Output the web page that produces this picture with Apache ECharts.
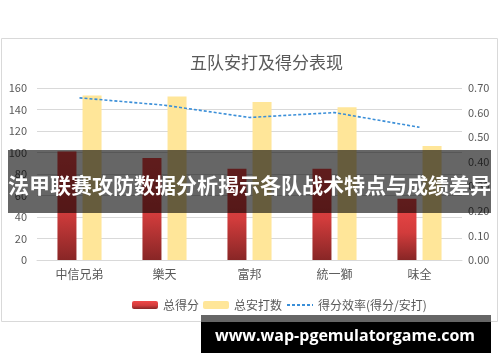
<!DOCTYPE html>
<html>
<head>
<meta charset="utf-8">
<script src="https://cdn.jsdelivr.net/npm/echarts@6/dist/echarts.min.js"></script>
<style>html,body{margin:0;padding:0;background:#fff}#c{width:500px;height:362px}</style>
</head>
<body>
<div id="c"></div>
<script>
const categories = ['中信兄弟', '樂天', '富邦', '統一獅', '味全'];
const totalRuns = [101, 95, 85, 85, 57];
const totalHits = [153, 152, 147, 142, 106];
const efficiency = [0.66, 0.63, 0.58, 0.60, 0.54];
const leftTicks = { min: 0, max: 160, interval: 20 };
const rightTicks = { min: 0, max: 0.7, interval: 0.1 };
const seriesNames = ['总得分', '总安打数', '得分效率(得分/安打)'];
const titleText = '五队安打及得分表现';
const bannerText = '法甲联赛攻防数据分析揭示各队战术特点与成绩差异';
const watermarkText = 'www.wap-pgemulatorgame.com';

const font = '"Noto Sans CJK SC", "Microsoft YaHei", sans-serif';
const chart = echarts.init(document.getElementById('c'), null, { renderer: 'canvas' });
chart.setOption({
  animation: false,
  textStyle: { fontFamily: font },
  title: {
    text: titleText, left: 185, top: 49,
    textStyle: { fontFamily: font, fontSize: 17, fontWeight: 'normal', color: '#595959' }
  },
  grid: { left: 37, right: 38, top: 88, bottom: 102 },
  legend: {
    left: 127, top: 294, itemWidth: 26, itemHeight: 8, itemGap: 4,
    textStyle: { fontFamily: font, fontSize: 12, color: '#595959' },
    data: [
      seriesNames[0],
      seriesNames[1],
      { name: seriesNames[2], itemStyle: { opacity: 0 } }
    ]
  },
  xAxis: {
    type: 'category', data: categories,
    axisLine: { lineStyle: { color: '#d9d9d9' } },
    axisTick: { show: false },
    axisLabel: { color: '#595959', fontSize: 12, margin: 8, fontFamily: font }
  },
  yAxis: [
    {
      type: 'value', min: leftTicks.min, max: leftTicks.max, interval: leftTicks.interval,
      axisLine: { show: false }, axisTick: { show: false },
      axisLabel: { color: '#595959', fontSize: 11, margin: 10, fontFamily: font },
      splitLine: { lineStyle: { color: '#d9d9d9' } }
    },
    {
      type: 'value', min: rightTicks.min, max: rightTicks.max, interval: rightTicks.interval,
      axisLine: { show: false }, axisTick: { show: false },
      axisLabel: { color: '#595959', fontSize: 11, margin: 6, fontFamily: font,
        formatter: v => v.toFixed(2) },
      splitLine: { show: false }
    }
  ],
  series: [
    {
      name: seriesNames[0], type: 'bar', data: totalRuns, barWidth: 19, barGap: '32%',
      itemStyle: {
        color: new echarts.graphic.LinearGradient(0, 0, 0, 1, [
          { offset: 0, color: '#f04848' },
          { offset: 0.55, color: '#d23c3c' },
          { offset: 1, color: '#882626' }
        ])
      }
    },
    {
      name: seriesNames[1], type: 'bar', data: totalHits, barWidth: 19,
      itemStyle: { color: '#ffe699' }
    },
    {
      name: seriesNames[2], type: 'line', yAxisIndex: 1, data: efficiency,
      symbol: 'none', showSymbol: false,
      lineStyle: { color: '#3b8fd8', width: 1.6, type: [3, 2] },
      itemStyle: { color: '#3b8fd8' }
    }
  ],
  graphic: [
    {
      type: 'rect', z: -10, silent: true,
      shape: { x: 1.5, y: 38.5, width: 496, height: 283 },
      style: { fill: 'none', stroke: '#d9d9d9', lineWidth: 1 }
    },
    {
      type: 'rect', z: 100, silent: true,
      shape: { x: 8, y: 150, width: 483, height: 63 },
      style: { fill: 'rgba(0,0,0,0.6)' }
    },
    {
      type: 'text', z: 101, silent: true, x: 249.5, y: 185,
      style: { text: bannerText, fill: '#fff', font: 'bold 21px ' + font, textAlign: 'center', textVerticalAlign: 'middle' }
    },
    {
      type: 'rect', z: 100, silent: true,
      shape: { x: 201, y: 315, width: 290, height: 7 },
      style: { fill: '#666666' }
    },
    {
      type: 'rect', z: 100, silent: true,
      shape: { x: 201, y: 322, width: 290, height: 31 },
      style: { fill: '#000000' }
    },
    {
      type: 'text', z: 101, silent: true, x: 345, y: 336,
      style: { text: watermarkText, fill: '#fff', font: 'bold 16px "Open Sans", "DejaVu Sans", sans-serif', textAlign: 'center', textVerticalAlign: 'middle' }
    }
  ]
});
</script>
</body>
</html>
